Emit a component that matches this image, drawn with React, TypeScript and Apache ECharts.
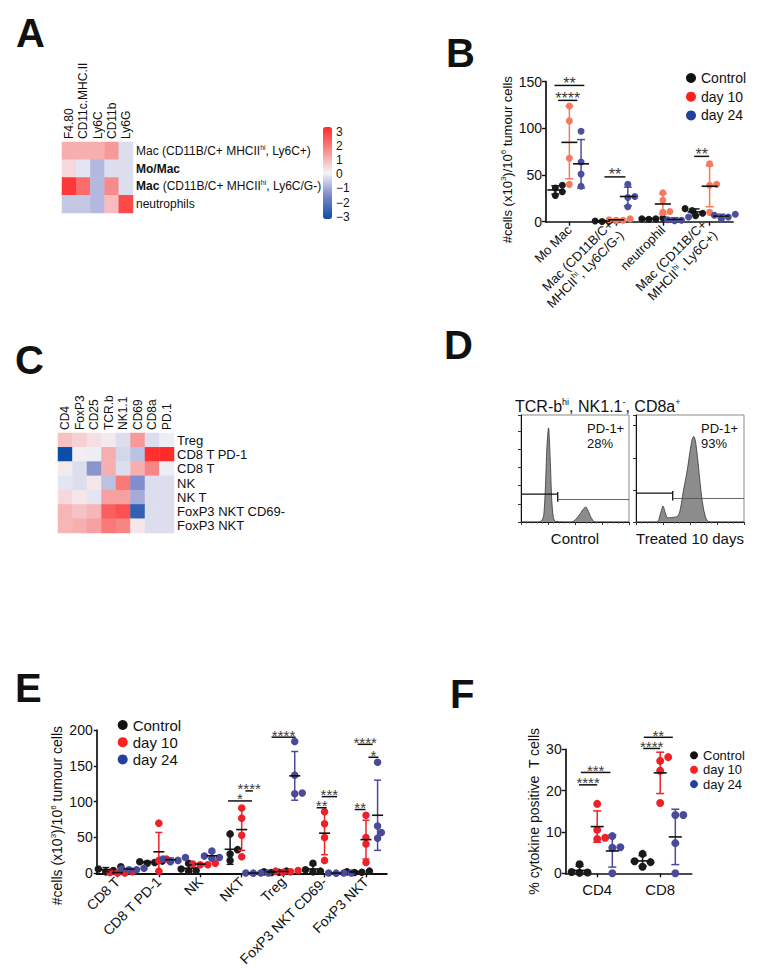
import React, { useEffect, useRef } from 'react';
import * as echarts from 'echarts';

const FONT = '"Liberation Sans", Arial, Helvetica, sans-serif';
const INK = '#111111';

// ---------- Panel A (heatmap) ----------
const A_MARKERS = ['F4.80', 'CD11c.MHC.II', 'Ly6C', 'CD11b', 'Ly6G'];
const A_POPULATIONS = ['Mac (CD11B/C+ MHCIIhi, Ly6C+)', 'Mo/Mac', 'Mac (CD11B/C+ MHCIIhi, Ly6C/G-)', 'neutrophils'];
const A_POPULATION_LABELS = [
  'Mac (CD11B/C+ MHCII{sup|hi}, Ly6C+)',
  '{b|Mo/Mac}',
  '{b|Mac} (CD11B/C+ MHCII{sup|hi}, Ly6C/G-)',
  'neutrophils',
];
const A_SCORES = [
  [1.0, 1.0, 1.0, 1.3, -0.3],
  [0.4, -0.2, -0.8, -0.3, -0.3],
  [2.8, 2.0, -0.8, 1.5, -0.3],
  [-0.6, -0.6, -0.8, 0.8, 2.5],
];
const SCALE_MIN = -3;
const SCALE_MAX = 3;
const HEAT_COLORS = ['#0b4ea8', '#7a86c8', '#f4f4f8', '#f78b8b', '#ff2a2a'];

// ---------- Panel C (heatmap) ----------
const C_MARKERS = ['CD4', 'FoxP3', 'CD25', 'TCR.b', 'NK1.1', 'CD69', 'CD8a', 'PD.1'];
const C_POPULATIONS = ['Treg', 'CD8 T PD-1', 'CD8 T', 'NK', 'NK T', 'FoxP3 NKT CD69-', 'FoxP3 NKT'];
const C_SCORES = [
  [0.7, 0.5, 0.3, 0.15, -0.3, 1.3, -0.3, -0.1],
  [-3.0, 0.1, -0.1, 1.0, -0.4, -0.7, 2.9, 3.0],
  [0.15, -0.3, -1.3, 1.0, -0.3, 1.0, 1.6, -0.1],
  [-0.2, -0.3, 0.2, -0.7, 1.8, -1.4, -0.3, -0.3],
  [0.4, 0.2, -0.2, 1.2, 1.2, -1.0, -0.3, -0.3],
  [0.9, 0.7, 0.9, 2.2, 2.4, -2.5, -0.3, -0.3],
  [0.9, 1.0, 1.2, 1.8, 1.6, 0.2, -0.3, -0.3],
];

// ---------- shared groups ----------
const GROUPS = ['Control', 'day 10', 'day 24'];
const LEGEND_COLORS = ['#111111', '#ff1f1f', '#22409c'];

// ---------- Panel B ----------
const B_CATEGORIES = ['Mo Mac', 'Mac (CD11B/C+ MHCIIhi, Ly6C/G-)', 'neutrophil', 'Mac (CD11B/C+ MHCIIhi, Ly6C+)'];
const B_CATEGORY_LABELS = ['Mo Mac', 'Mac (CD11B/C+\nMHCII{sup|hi}, Ly6C/G-)', 'neutrophil', 'Mac (CD11B/C+\nMHCII{sup|hi}, Ly6C+)'];
const B_CONTROL = [[39, 36, 32, 28], [1, 0.5, 0.3, 0.8], [4, 3, 2.5, 3], [14, 12, 9, 6.5]];
const B_DAY10 = [[124, 108, 68, 40], [3, 2, 1.5, 1], [31, 23, 11, 10], [62, 40, 39, 10]];
const B_DAY24 = [[97, 64, 51, 38], [40, 27, 26, 16], [5, 2, 1, 1.5], [8, 7, 5, 3]];
const B_MEAN = [[34, 0.6, 3, 10.5], [85, 2, 19, 38], [62, 27, 2.5, 6]];
const B_SD = [[4.5, 0.3, 0.6, 3.2], [39, 0.8, 11, 22], [26, 10, 1.8, 2]];
const B_SIGNIFICANCE: [number, number, number, string][] = [
  [-0.32, 0.32, 146, '**'],
  [-0.24, 0.17, 130, '****'],
  [0.75, 1.2, 48, '**'],
  [2.67, 2.99, 70, '**'],
];

// ---------- Panel D (flow histograms) ----------
const D_CONTROL_CURVE: [number, number][] = [
  [0, 0], [17, 0], [19, 1], [21, 6], [22.5, 30], [24, 70], [25.5, 88], [27, 60], [28.5, 20], [30, 4], [32, 0.5],
  [46, 0], [49, 1], [52, 4], [55, 8], [58, 12.5], [60, 14], [62, 11], [64.5, 5], [67, 1], [69, 0], [100, 0],
];
const D_TREATED_CURVE: [number, number][] = [
  [0, 0], [19, 0], [21, 2], [23, 9], [25, 15], [27, 9], [29, 4], [31, 4], [35, 4.5], [38, 5], [40, 8], [42, 17],
  [44, 30], [46, 40], [48, 52], [50, 66], [52, 77], [53.5, 80], [55, 76], [57, 60], [59, 40], [61, 22], [63, 10],
  [65, 3], [67, 0.5], [70, 0], [100, 0],
];
const D_CONTROL_GATE = [[0, 26, 34, 26], [34, 19, 34, 28], [34, 21, 100, 21]];
const D_TREATED_GATE = [[0, 27, 34, 27], [34, 20, 34, 29], [34, 22, 100, 22]];
const D_PERCENT = ['28%', '93%'];

// ---------- Panel E ----------
const E_CATEGORIES = ['CD8 T', 'CD8 T PD-1', 'NK', 'NKT', 'Treg', 'FoxP3 NKT CD69-', 'FoxP3 NKT'];
const E_CONTROL = [[9, 6, 4, 2], [17, 16, 15, 14], [14, 6, 4, 3], [55, 33, 27, 18], [3, 2, 1.5, 1], [14, 5, 3, 2], [3, 2, 1.5, 1]];
const E_DAY10 = [[2, 1, 0.5, 0.5], [70, 20, 18, 3], [14, 13, 12, 12], [91, 77, 53, 23], [4, 3, 2, 1.5], [86, 69, 50, 18], [81, 50, 41, 15]];
const E_DAY24 = [[7, 6, 5, 5], [22, 20, 18, 16], [31, 24, 22, 21], [0.5, 0.5, 0.3, 0.2], [184, 137, 112, 111], [0.5, 0.3, 0.3, 0.2], [155, 66, 57, 49]];
const E_MEAN = [[5, 15.5, 7, 33.5, 2, 6, 2], [1, 30, 12.8, 61, 2.6, 56, 47], [6, 19, 24.5, 0.4, 136, 0.3, 81]];
const E_SD = [[3, 1.3, 5, 21, 1, 5.5, 1], [0.7, 27, 1, 29, 1.1, 30, 27], [1, 2.5, 4.5, 0.1, 34, 0.1, 49]];
const E_SIGNIFICANCE: [number, number, number, string][] = [
  [2.67, 3.25, 101, '*'],
  [3.09, 3.27, 115, '****'],
  [3.72, 4.3, 190, '****'],
  [4.81, 5.05, 91.5, '**'],
  [4.93, 5.3, 107, '***'],
  [5.73, 5.99, 89, '**'],
  [5.8, 6.16, 180, '****'],
  [6.06, 6.3, 162, '*'],
];

// ---------- Panel F ----------
const F_CATEGORIES = ['CD4', 'CD8'];
const F_CONTROL = [[2.2, 0.3, 0.2, 0.1], [4.7, 2.9, 2.7, 1.6]];
const F_DAY10 = [[16.8, 10.5, 8.6, 8.3], [28.1, 27.2, 24.8, 17.0]];
const F_DAY24 = [[9.0, 6.3, 6.2, 0], [14.1, 14.1, 7.3, 0]];
const F_MEAN = [[0.7, 3.0], [11.3, 24.3], [5.4, 8.8]];
const F_SD = [[1.0, 1.3], [3.8, 5.0], [3.9, 6.7]];
const F_SIGNIFICANCE: [number, number, number, string][] = [
  [-0.29, 0, 21.4, '****'],
  [-0.26, 0.21, 24.4, '***'],
  [0.73, 1.0, 30.2, '****'],
  [0.74, 1.2, 32.9, '**'],
];

const SUP = { fontSize: 8, lineHeight: 9, verticalAlign: 'top' };

type Pt = [number, number];

// Prism-like horizontal scatter so overlapping dots sit side by side
function spread(vals: number[], center: number, pxPerUnit: number, groupPx: number, d: number): Pt[] {
  const order = vals.map((_, i) => i).sort((a, b) => vals[a] - vals[b]);
  const placed: Pt[] = [];
  const out: Pt[] = new Array(vals.length);
  const cands = [0, 0.5, -0.5, 1, -1, 1.5, -1.5, 2, -2];
  for (const i of order) {
    const py = vals[i] * pxPerUnit;
    let px = 0;
    for (const c of cands) {
      const x = c * d;
      if (placed.every(([qx, qy]) => Math.hypot(qx - x, qy - py) >= d * 0.85)) { px = x; break; }
    }
    placed.push([px, py]);
    out[i] = [center + px / groupPx, vals[i]];
  }
  return out;
}

function txtStyle(o: any) {
  const s: any = { ...o };
  if (o.align) s.textAlign = o.align;
  if (o.verticalAlign) s.textVerticalAlign = o.verticalAlign;
  if (o.fill) s.textFill = o.fill;
  return s;
}

function errorSeries(xi: number, yi: number, data: number[][], color: string, meanW: number, capW: number) {
  return {
    type: 'custom', xAxisIndex: xi, yAxisIndex: yi, data, encode: { x: 0, y: 1 }, z: 4, silent: true, clip: false,
    renderItem: (_p: any, api: any) => {
      const x = api.value(0), m = api.value(1), sd = api.value(2);
      const c = api.coord([x, m]);
      const t = api.coord([x, m + sd]);
      const b = api.coord([x, Math.max(0, m - sd)]);
      const ls = { stroke: color, lineWidth: 1.5 };
      return {
        type: 'group', children: [
          { type: 'line', shape: { x1: c[0], y1: t[1], x2: c[0], y2: b[1] }, style: ls },
          { type: 'line', shape: { x1: c[0] - capW / 2, y1: t[1], x2: c[0] + capW / 2, y2: t[1] }, style: ls },
          { type: 'line', shape: { x1: c[0] - capW / 2, y1: b[1], x2: c[0] + capW / 2, y2: b[1] }, style: ls },
          { type: 'line', shape: { x1: c[0] - meanW / 2, y1: c[1], x2: c[0] + meanW / 2, y2: c[1] }, style: { stroke: INK, lineWidth: 1.6 } },
        ],
      };
    },
  };
}

function sigSeries(xi: number, yi: number, sig: [number, number, number, string][], starSize: number) {
  return {
    type: 'custom', xAxisIndex: xi, yAxisIndex: yi, data: sig.map((s) => [s[0], s[2], s[1]]),
    encode: { x: [0, 2], y: 1 }, z: 5, silent: true, clip: false,
    renderItem: (p: any, api: any) => {
      const s = sig[p.dataIndex];
      const a = api.coord([s[0], s[2]]);
      const b = api.coord([s[1], s[2]]);
      return {
        type: 'group', children: [
          { type: 'line', shape: { x1: a[0], y1: a[1], x2: b[0], y2: b[1] }, style: { stroke: INK, lineWidth: 1.5 } },
          {
            type: 'text', x: (a[0] + b[0]) / 2, y: a[1] - 2,
            style: txtStyle({ text: s[3], fontSize: starSize, lineHeight: 7, fontFamily: FONT, fill: '#3a3a3a', align: 'center', verticalAlign: 'middle' }),
          },
        ],
      };
    },
  };
}

// vertical marker names above a heatmap, placed from the category scales
function columnLabelSeries(xi: number, yi: number, labels: string[], fontSize: number) {
  return {
    type: 'custom', xAxisIndex: xi, yAxisIndex: yi, data: labels.map((_, i) => [i, 0]), encode: { x: 0, y: 1 },
    clip: false, silent: true, z: 10,
    renderItem: (p: any, api: any) => {
      const c = api.coord([api.value(0), api.value(1)]);
      const sz = api.size([1, 1]);
      return {
        type: 'text', x: c[0], y: c[1] - sz[1] / 2 - 3, rotation: Math.PI / 2,
        style: txtStyle({ text: labels[p.dataIndex], fontSize, fontFamily: FONT, fill: INK, align: 'left', verticalAlign: 'middle' }),
      };
    },
  };
}

function dotPlot(o: {
  xi: number; yi: number; values: number[][][]; means: number[][]; sds: number[][]; offsets: number[];
  colors: string[]; errColors: string[]; pxPerUnit: number; groupPx: number; size: number; meanW: number; capW: number;
  sig: [number, number, number, string][]; starSize: number;
}) {
  const out: any[] = [];
  o.values.forEach((cond, k) => {
    const pts = cond.flatMap((vals, g) => spread(vals, g + o.offsets[k], o.pxPerUnit, o.groupPx, o.size));
    out.push({
      type: 'scatter', name: GROUPS[k], xAxisIndex: o.xi, yAxisIndex: o.yi, data: pts, symbol: 'circle',
      symbolSize: o.size, itemStyle: { color: o.colors[k], opacity: 1 }, clip: false, z: 3, silent: true,
    });
    out.push(errorSeries(o.xi, o.yi, o.means[k].map((m, g) => [g + o.offsets[k], m, o.sds[k][g]]), o.errColors[k], o.meanW, o.capW));
  });
  out.push(sigSeries(o.xi, o.yi, o.sig, o.starSize));
  return out;
}

const blackLine = { show: true, onZero: false, lineStyle: { color: INK, width: 1.7 } };
const blackTick = (len: number) => ({ show: true, length: len, lineStyle: { color: INK, width: 1.4 } });
const noSplit = { show: false };

function gateSeries(xi: number, yi: number, gate: number[][]) {
  return {
    type: 'custom', xAxisIndex: xi, yAxisIndex: yi, data: gate, encode: { x: [0, 2], y: [1, 3] }, z: 6, silent: true, clip: false,
    renderItem: (p: any, api: any) => {
      const a = api.coord([api.value(0), api.value(1)]);
      const b = api.coord([api.value(2), api.value(3)]);
      const strong = p.dataIndex < 2;
      return { type: 'line', shape: { x1: a[0], y1: a[1], x2: b[0], y2: b[1] }, style: { stroke: strong ? '#111' : '#555', lineWidth: strong ? 1.3 : 0.9 } };
    },
  };
}

function histSeries(xi: number, yi: number, data: [number, number][]) {
  return {
    type: 'line', xAxisIndex: xi, yAxisIndex: yi, data, smooth: 0.25, symbol: 'none', silent: true,
    lineStyle: { color: '#333', width: 0.8 }, areaStyle: { color: '#8c8c8c', opacity: 1 }, z: 2,
  };
}

function buildOption(): any {
  const heatA = A_SCORES.flatMap((row, r) => row.map((v, c) => [c, r, v]));
  const heatC = C_SCORES.flatMap((row, r) => row.map((v, c) => [c, r, v]));
  const nameStyle = (size: number, shift: number) => ({
    fontSize: size, color: INK, fontFamily: FONT, lineHeight: size + 2, rich: { sup: SUP }, padding: [0, shift, 0, 0],
  });

  const grids = [
    { left: 62, top: 142, width: 71, height: 71 },
    { left: 323, top: 131.7, width: 9, height: 85 },
    { left: 546, top: 81.7, width: 187, height: 140 },
    { left: 58, top: 433, width: 116, height: 100 },
    { left: 521, top: 415, width: 108, height: 107, show: true, borderColor: '#8a8a8a', borderWidth: 1 },
    { left: 636, top: 415, width: 108, height: 107, show: true, borderColor: '#8a8a8a', borderWidth: 1 },
    { left: 96.7, top: 730, width: 290, height: 143.3 },
    { left: 565.7, top: 749.3, width: 126, height: 124 },
  ].map((g) => ({ ...g, containLabel: false, outerBoundsMode: 'none' }));

  const dAxisX = (gi: number, name: string) => ({
    gridIndex: gi, type: 'value', min: 0, max: 100, interval: 25,
    axisLine: { show: true, onZero: false, lineStyle: { color: INK, width: 1 } }, axisTick: { show: true, length: 3, lineStyle: { color: '#333' } },
    minorTick: { show: true, splitNumber: 5, length: 1.5, lineStyle: { color: '#555' } },
    axisLabel: { show: false }, splitLine: noSplit,
    name, nameLocation: 'middle', nameGap: 9, nameTextStyle: { fontSize: 15, color: INK, fontFamily: FONT, verticalAlign: 'top' },
  });
  const dAxisY = (gi: number, interval: number) => ({
    gridIndex: gi, type: 'value', min: 0, max: 100, interval,
    axisLine: { show: true, onZero: false, lineStyle: { color: INK, width: 1 } }, axisTick: { show: true, length: 3, lineStyle: { color: '#333' } },
    axisLabel: { show: false }, splitLine: noSplit,
  });
  const hiddenCat = (gi: number, data: string[]) => ({
    gridIndex: gi, type: 'category', position: 'top', data, axisLine: { show: false, onZero: false }, axisTick: { show: false },
    axisLabel: { show: false }, splitLine: noSplit,
  });

  const xAxis = [
    hiddenCat(0, A_MARKERS),
    { gridIndex: 1, type: 'value', show: false, min: 0, max: 1 },
    { gridIndex: 2, type: 'category', data: B_CATEGORIES, boundaryGap: true, axisLine: blackLine,
      axisTick: { ...blackTick(4), alignWithLabel: true },
      axisLabel: { rotate: 45, interval: 0, fontSize: 13, color: INK, margin: 6, lineHeight: 15,
        formatter: (_v: string, i: number) => B_CATEGORY_LABELS[i], rich: { sup: SUP } } },
    { gridIndex: 2, type: 'value', show: false, min: -0.5, max: 3.5, axisLine: { onZero: false } },
    hiddenCat(3, C_MARKERS),
    dAxisX(4, 'Control'),
    dAxisX(5, 'Treated 10 days'),
    { gridIndex: 6, type: 'category', data: E_CATEGORIES, boundaryGap: true, axisLine: { show: true, onZero: false, lineStyle: { color: INK, width: 2.2 } },
      axisTick: { ...blackTick(4), alignWithLabel: true },
      axisLabel: { rotate: 45, interval: 0, fontSize: 14, color: INK, margin: 6 } },
    { gridIndex: 6, type: 'value', show: false, min: -0.5, max: 6.5, axisLine: { onZero: false } },
    { gridIndex: 7, type: 'category', data: F_CATEGORIES, boundaryGap: true, axisLine: blackLine,
      axisTick: { ...blackTick(4), alignWithLabel: true },
      axisLabel: { interval: 0, fontSize: 15, color: INK, margin: 9 } },
    { gridIndex: 7, type: 'value', show: false, min: -0.5, max: 1.5, axisLine: { onZero: false } },
  ];

  const yAxis = [
    { gridIndex: 0, type: 'category', inverse: true, position: 'right', data: A_POPULATIONS, axisLine: { show: false, onZero: false }, axisTick: { show: false },
      axisLabel: { fontSize: 12, color: INK, margin: 3, lineHeight: 14, interval: 0,
        formatter: (_v: string, i: number) => A_POPULATION_LABELS[i],
        rich: { sup: { fontSize: 7, lineHeight: 8, verticalAlign: 'top' }, b: { fontWeight: 'bold', fontSize: 12, lineHeight: 14 } } } },
    { gridIndex: 1, type: 'value', position: 'right', min: SCALE_MIN, max: SCALE_MAX, interval: 1,
      axisLine: { show: false, onZero: false }, axisTick: { show: false }, splitLine: noSplit,
      axisLabel: { fontSize: 12, color: INK, margin: 4, formatter: (v: number) => String(v).replace('-', '\u2212') } },
    { gridIndex: 2, type: 'value', min: 0, max: 150, interval: 50, axisLine: blackLine, axisTick: blackTick(4), splitLine: noSplit,
      axisLabel: { fontSize: 14, color: INK, margin: 4 },
      name: '#cells (x10{sup|3})/10{sup|6} tumour cells', nameLocation: 'middle', nameRotate: 90, nameGap: 30, nameTextStyle: nameStyle(13, 16) },
    { gridIndex: 3, type: 'category', inverse: true, position: 'right', data: C_POPULATIONS, axisLine: { show: false, onZero: false }, axisTick: { show: false },
      axisLabel: { fontSize: 13, color: INK, margin: 3, interval: 0 } },
    dAxisY(4, 17),
    dAxisY(5, 30),
    { gridIndex: 6, type: 'value', min: 0, max: 200, interval: 50, axisLine: blackLine, axisTick: blackTick(3), splitLine: noSplit,
      axisLabel: { fontSize: 14, color: INK, margin: 4 },
      name: '#cells (x10{sup|3})/10{sup|6} tumour cells', nameLocation: 'middle', nameRotate: 90, nameGap: 30, nameTextStyle: nameStyle(14, 28) },
    { gridIndex: 7, type: 'value', min: 0, max: 30, interval: 10, axisLine: blackLine, axisTick: blackTick(4), splitLine: noSplit,
      axisLabel: { fontSize: 14, color: INK, margin: 4 },
      name: '% cytokine positive  T cells', nameLocation: 'middle', nameRotate: 90, nameGap: 24, nameTextStyle: nameStyle(14, 0) },
  ];

  const legendData = () => GROUPS.map((g, i) => ({ name: g, icon: 'circle', itemStyle: { color: LEGEND_COLORS[i] } }));
  const legend = [
    { left: 686, top: 71, orient: 'vertical', itemWidth: 10, itemHeight: 10, itemGap: 4.7, padding: 0, selectedMode: false,
      textStyle: { fontSize: 14, color: INK, fontFamily: FONT }, data: legendData() },
    { left: 117.7, top: 717.5, orient: 'vertical', itemWidth: 10, itemHeight: 10, itemGap: 2.2, padding: 0, selectedMode: false,
      textStyle: { fontSize: 15, color: INK, fontFamily: FONT }, data: legendData() },
    { left: 690, top: 748.8, orient: 'vertical', itemWidth: 8, itemHeight: 8, itemGap: 1.4, padding: 0, selectedMode: false,
      textStyle: { fontSize: 13, color: INK, fontFamily: FONT }, data: legendData() },
  ];

  const series: any[] = [
    { type: 'heatmap', xAxisIndex: 0, yAxisIndex: 0, data: heatA, itemStyle: { borderWidth: 0 }, emphasis: { disabled: true }, silent: true },
    { type: 'heatmap', xAxisIndex: 4, yAxisIndex: 3, data: heatC, itemStyle: { borderWidth: 0 }, emphasis: { disabled: true }, silent: true },
    columnLabelSeries(0, 0, A_MARKERS, 12),
    columnLabelSeries(4, 3, C_MARKERS, 12),
    histSeries(5, 4, D_CONTROL_CURVE),
    histSeries(6, 5, D_TREATED_CURVE),
    gateSeries(5, 4, D_CONTROL_GATE),
    gateSeries(6, 5, D_TREATED_GATE),
    ...dotPlot({
      xi: 3, yi: 2, values: [B_CONTROL, B_DAY10, B_DAY24], means: B_MEAN, sds: B_SD, offsets: [-0.3, 0, 0.25],
      colors: ['#1a1a1a', '#f47a5e', '#4b4f9e'], errColors: ['#1a1a1a', '#f47a5e', '#4b4f9e'],
      pxPerUnit: 140 / 150, groupPx: 46.75, size: 7, meanW: 16, capW: 8, sig: B_SIGNIFICANCE, starSize: 16,
    }),
    ...dotPlot({
      xi: 8, yi: 6, values: [E_CONTROL, E_DAY10, E_DAY24], means: E_MEAN, sds: E_SD, offsets: [-0.28, 0, 0.28],
      colors: ['#1a1a1a', '#ee2028', '#4b4a9a'], errColors: ['#1a1a1a', '#ee2028', '#4b4a9a'],
      pxPerUnit: 143.3 / 200, groupPx: 41.4, size: 7.5, meanW: 11, capW: 7, sig: E_SIGNIFICANCE, starSize: 15,
    }),
    ...dotPlot({
      xi: 10, yi: 7, values: [F_CONTROL, F_DAY10, F_DAY24], means: F_MEAN, sds: F_SD, offsets: [-0.28, 0, 0.24],
      colors: ['#1a1a1a', '#ee2028', '#4b4a9a'], errColors: ['#1a1a1a', '#ee2028', '#4b4a9a'],
      pxPerUnit: 124 / 30, groupPx: 63, size: 8, meanW: 13, capW: 8, sig: F_SIGNIFICANCE, starSize: 15,
    }),
  ];

  const letter = (t: string, x: number, y: number) => ({
    type: 'text', x, y, silent: true,
    style: txtStyle({ text: t, fontSize: 40, fontWeight: 'bold', fontFamily: FONT, fill: '#111', align: 'left', verticalAlign: 'middle' }),
  });
  const note = (t: string, x: number, y: number) => ({
    type: 'text', x, y, silent: true,
    style: txtStyle({ text: t, fontSize: 13, lineHeight: 15, fontFamily: FONT, fill: INK, align: 'left', verticalAlign: 'top' }),
  });

  const graphic = [
    letter('A', 16, 33),
    letter('B', 446, 53),
    letter('C', 15, 360),
    letter('D', 444, 345),
    letter('E', 15, 688),
    letter('F', 450, 694),
    note('PD-1+\n' + D_PERCENT[0], 587, 421),
    note('PD-1+\n' + D_PERCENT[1], 701, 421),
    {
      type: 'text', x: 515, y: 406, silent: true,
      style: txtStyle({
        text: 'TCR-b{sup|hi}, NK1.1{sup|-}, CD8a{sup|+}', fontSize: 16, lineHeight: 18, fontFamily: FONT, fill: INK,
        align: 'left', verticalAlign: 'middle', rich: { sup: { fontSize: 9, lineHeight: 10, verticalAlign: 'top', fontFamily: FONT } },
      }),
    },
  ];

  return {
    animation: false,
    backgroundColor: '#ffffff',
    textStyle: { fontFamily: FONT },
    grid: grids,
    xAxis,
    yAxis,
    visualMap: [
      { type: 'continuous', seriesIndex: 0, min: SCALE_MIN, max: SCALE_MAX, inRange: { color: HEAT_COLORS },
        left: 323, top: 127, itemWidth: 9, itemHeight: 92, calculable: false, hoverLink: false, padding: 0, orient: 'vertical' },
      { type: 'continuous', seriesIndex: 1, show: false, min: SCALE_MIN, max: SCALE_MAX, inRange: { color: HEAT_COLORS } },
    ],
    legend,
    series,
    graphic,
  };
}

export default function App() {
  const ref = useRef<HTMLDivElement>(null);
  useEffect(() => {
    if (!ref.current) return;
    const chart = echarts.init(ref.current, undefined, { renderer: 'svg' });
    chart.setOption(buildOption());
    return () => chart.dispose();
  }, []);
  return (
    <div
      ref={ref}
      style={{ position: 'absolute', left: 0, top: 0, width: 769, height: 978, background: '#ffffff' }}
    />
  );
}
